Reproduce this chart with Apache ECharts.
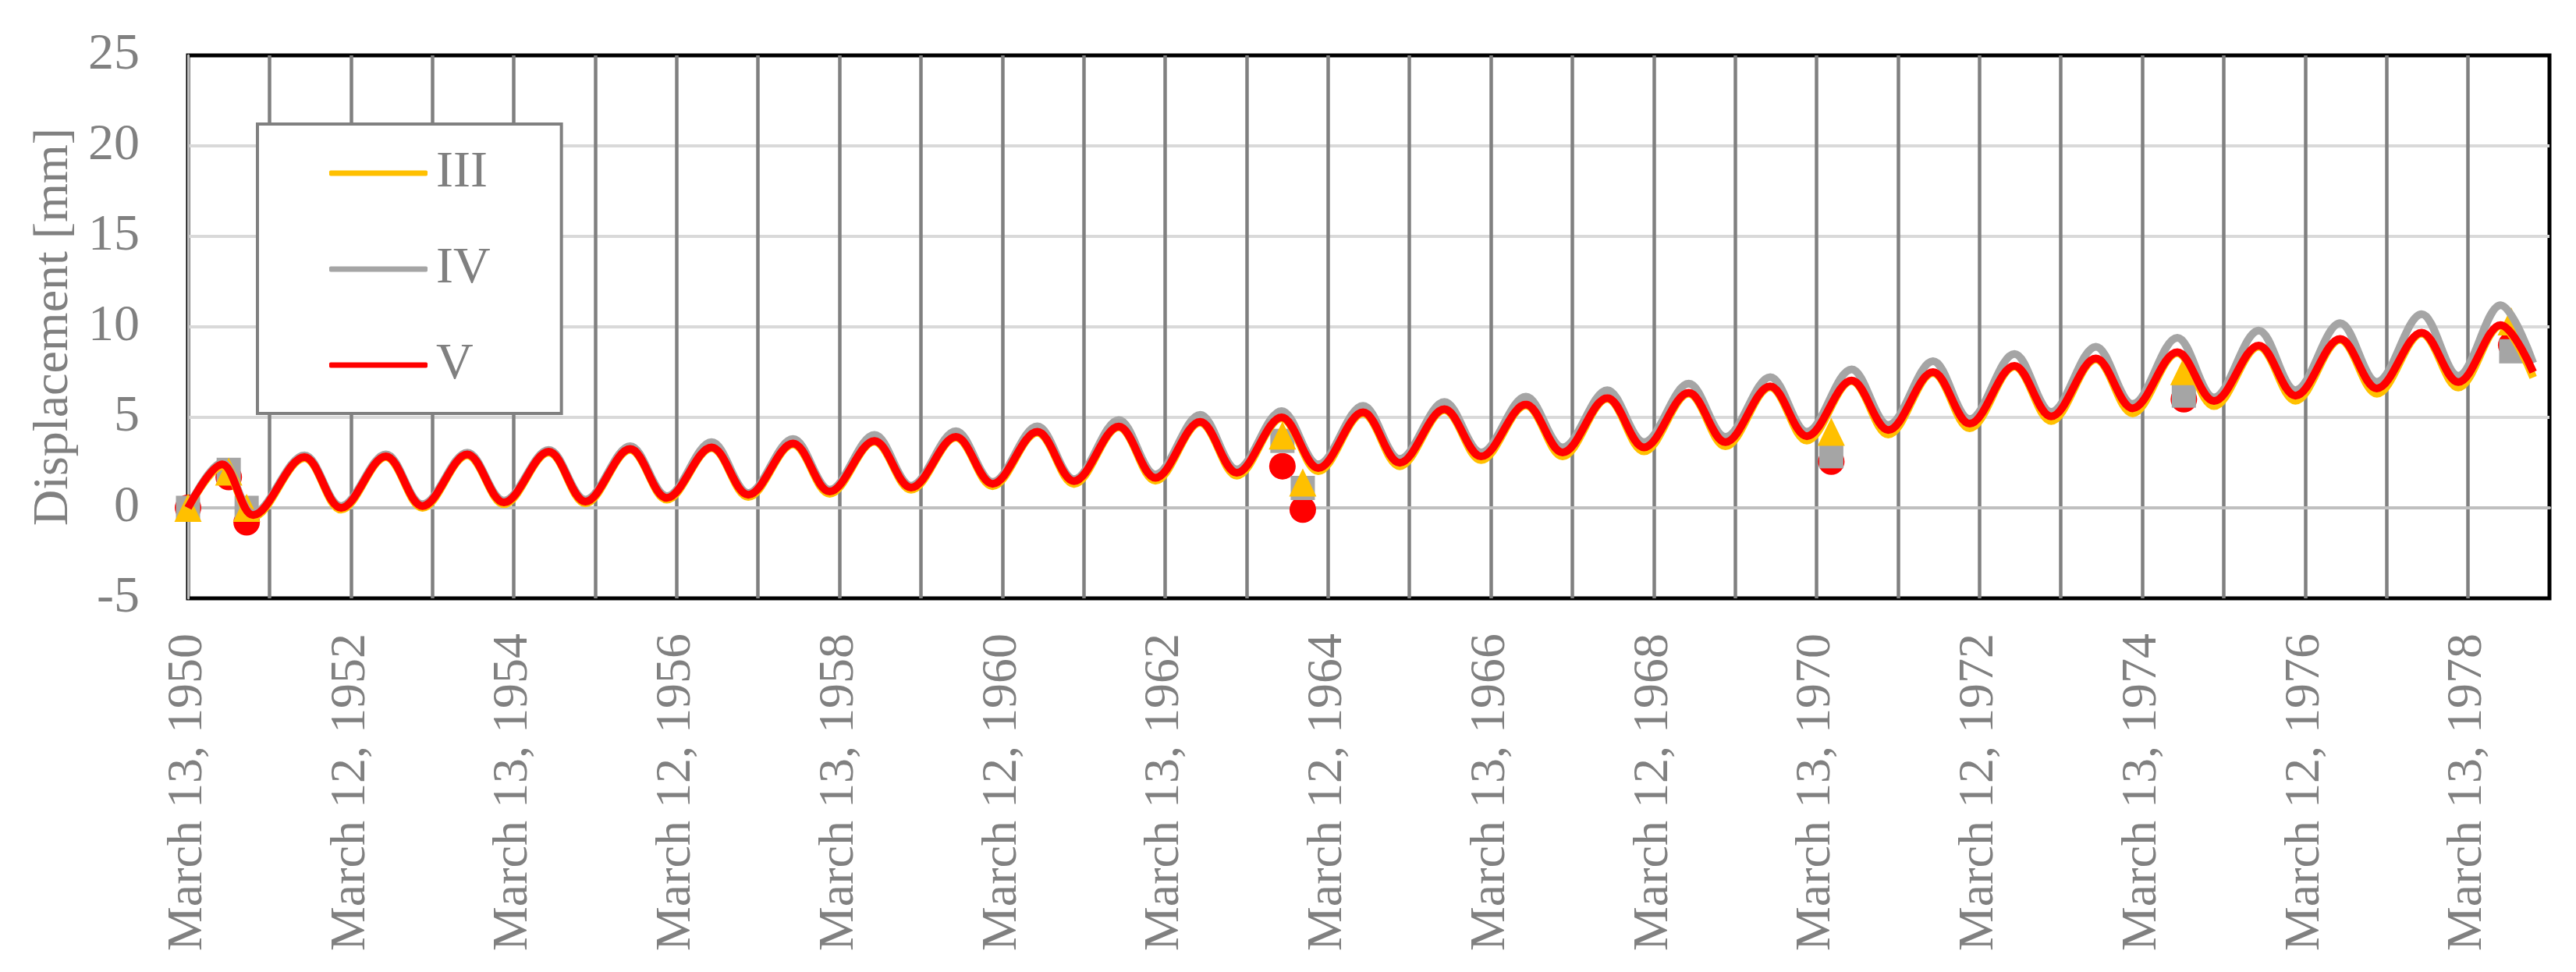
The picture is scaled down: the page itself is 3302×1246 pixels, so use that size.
<!DOCTYPE html>
<html>
<head>
<meta charset="utf-8">
<script src="https://cdn.jsdelivr.net/npm/echarts@6/dist/echarts.min.js"></script>
<style>
  body { margin: 0; background: #fff; }
  #main { width: 3302px; height: 1246px; }
</style>
</head>
<body>
<div id="main"></div>
<script>
// time in years after March 13, 1950 (peaks and troughs of each yearly wave)
var years = [0, 0.42, 0.8,
  1.43, 1.88, 2.43, 2.88, 3.43, 3.88, 4.43, 4.88, 5.43, 5.88,
  6.43, 6.88, 7.43, 7.88, 8.43, 8.88, 9.43, 9.88, 10.43, 10.88,
  11.43, 11.88, 12.43, 12.88, 13.43, 13.88, 14.43, 14.88, 15.43, 15.88,
  16.43, 16.88, 17.43, 17.88, 18.43, 18.88, 19.43, 19.88, 20.43, 20.88,
  21.43, 21.88, 22.43, 22.88, 23.43, 23.88, 24.43, 24.88, 25.43, 25.88,
  26.43, 26.88, 27.43, 27.88, 28.4, 28.8];

var lineIII = [0, 2.3, -0.5,
  2.75, -0.1, 2.8, 0.0, 2.9, 0.2, 3.05, 0.25, 3.2, 0.45,
  3.3, 0.6, 3.5, 0.78, 3.65, 1.0, 3.88, 1.2, 4.15, 1.32,
  4.45, 1.5, 4.7, 1.78, 4.95, 2.03, 5.22, 2.3, 5.4, 2.64,
  5.66, 2.85, 6.02, 3.12, 6.3, 3.4, 6.66, 3.72, 7.0, 4.05,
  7.45, 4.4, 7.8, 4.8, 8.2, 5.22, 8.55, 5.62, 8.9, 5.92,
  9.28, 6.3, 9.62, 6.65, 10.05, 7.2];

var lineIV = [0, 2.5, -0.3,
  2.9, 0.1, 2.95, 0.2, 3.05, 0.4, 3.2, 0.45, 3.41, 0.65,
  3.63, 0.82, 3.8, 1.0, 4.03, 1.22, 4.23, 1.43, 4.5, 1.58,
  4.85, 1.84, 5.14, 2.12, 5.35, 2.4, 5.64, 2.7, 5.85, 3.06,
  6.14, 3.34, 6.5, 3.63, 6.86, 3.92, 7.22, 4.2, 7.65, 4.58,
  8.1, 4.9, 8.5, 5.3, 8.9, 5.74, 9.4, 6.1, 9.8, 6.5,
  10.2, 6.96, 10.7, 7.3, 11.2, 8.0];

var lineV = [0, 2.4, -0.4,
  2.8, 0.0, 2.85, 0.1, 2.95, 0.3, 3.1, 0.35, 3.25, 0.55,
  3.34, 0.72, 3.56, 0.9, 3.7, 1.12, 3.92, 1.33, 4.2, 1.48,
  4.49, 1.66, 4.75, 1.94, 5.0, 2.2, 5.28, 2.49, 5.45, 2.84,
  5.71, 3.06, 6.07, 3.34, 6.36, 3.63, 6.71, 3.96, 7.04, 4.3,
  7.5, 4.65, 7.85, 5.05, 8.25, 5.5, 8.6, 5.9, 8.97, 6.2,
  9.33, 6.6, 9.68, 6.95, 10.1, 7.5];

// measured points
var obsYears = [0, 0.5, 0.72, 13.44, 13.69, 20.18, 24.51, 28.53];
var obsIII = [0, 2.0, 0.0, 4.0, 1.4, 4.2, 7.55, 10.3];
var obsIV = [0, 2.1, 0.0, 3.7, 1.1, 2.85, 6.2, 8.65];
var obsV = [0, 1.7, -0.8, 2.3, -0.1, 2.55, 6.0, 9.0];

var xLabels = ['March 13, 1950', 'March 12, 1952', 'March 13, 1954', 'March 12, 1956',
  'March 13, 1958', 'March 12, 1960', 'March 13, 1962', 'March 12, 1964',
  'March 13, 1966', 'March 12, 1968', 'March 13, 1970', 'March 12, 1972',
  'March 13, 1974', 'March 12, 1976', 'March 13, 1978'];

function pairs(xs, ys) {
  var out = [];
  for (var i = 0; i < xs.length; i++) out.push([xs[i], ys[i]]);
  return out;
}

var font = 'Liberation Serif';
var grayText = '#808080';

var myChart = echarts.init(document.getElementById('main'));

option = {
  animation: false,
  backgroundColor: '#fff',
  grid: {
    left: 241, right: 34, top: 71, bottom: 479,
    show: true, borderColor: '#000', borderWidth: 5, backgroundColor: 'transparent'
  },
  legend: {
    data: ['III', 'IV', 'V'],
    orient: 'vertical',
    left: 330, top: 159,
    padding: [30, 91, 29, 92],
    backgroundColor: '#fff',
    borderColor: '#808080',
    borderWidth: 4,
    icon: 'roundRect',
    itemWidth: 126,
    itemHeight: 7,
    itemGap: 57,
    textStyle: { fontFamily: font, fontSize: 66, color: grayText, lineHeight: 64, padding: [0, 0, 0, 6] }
  },
  xAxis: [
    {
      type: 'value',
      min: 0, max: 29, interval: 1,
      axisLine: { show: false, onZero: false },
      axisTick: { show: false },
      axisLabel: {
        rotate: 90, margin: 45,
        fontFamily: font, fontSize: 64, color: grayText,
        formatter: function (v) {
          if (v % 2 === 0 && xLabels[v / 2]) return xLabels[v / 2];
          return '';
        }
      },
      splitLine: { show: true, showMinLine: false, showMaxLine: false, lineStyle: { color: '#808080', width: 4.5 } }
    },
    {
      // the horizontal axis line crossing at zero
      type: 'value',
      min: 0, max: 29,
      axisLine: { show: true, onZero: true, lineStyle: { color: '#bfbfbf', width: 4 } },
      axisTick: { show: false },
      axisLabel: { show: false },
      splitLine: { show: false }
    }
  ],
  yAxis: {
    type: 'value',
    min: -5, max: 25, interval: 5,
    name: 'Displacement [mm]',
    nameLocation: 'middle',
    nameGap: 140,
    nameTextStyle: { fontFamily: font, fontSize: 64, color: grayText },
    axisLine: { show: true, lineStyle: { color: '#bfbfbf', width: 3 } },
    axisTick: { show: false },
    axisLabel: { margin: 62, fontFamily: font, fontSize: 66, color: grayText },
    splitLine: { show: true, showMinLine: false, showMaxLine: false, lineStyle: { color: '#d9d9d9', width: 4 } }
  },
  series: [
    {
      name: 'III', type: 'line', data: pairs(years, lineIII),
      smooth: 0.36, showSymbol: false,
      itemStyle: { color: '#ffc000' }, lineStyle: { color: '#ffc000', width: 10 }
    },
    {
      name: 'IV', type: 'line', data: pairs(years, lineIV),
      smooth: 0.36, showSymbol: false,
      itemStyle: { color: '#a5a5a5' }, lineStyle: { color: '#a5a5a5', width: 10 }
    },
    {
      name: 'V', type: 'line', data: pairs(years, lineV),
      smooth: 0.36, showSymbol: false,
      itemStyle: { color: '#ff0000' }, lineStyle: { color: '#ff0000', width: 10 }
    },
    {
      name: 'V obs', type: 'scatter', data: pairs(obsYears, obsV),
      symbol: 'circle', symbolSize: 34,
      itemStyle: { color: '#ff0000', opacity: 1 }
    },
    {
      name: 'IV obs', type: 'scatter', data: pairs(obsYears, obsIV),
      symbol: 'rect', symbolSize: 31,
      itemStyle: { color: '#a5a5a5', opacity: 1 }
    },
    {
      name: 'III obs', type: 'scatter', data: pairs(obsYears, obsIII),
      symbol: 'triangle', symbolSize: [35, 36],
      itemStyle: { color: '#ffc000', opacity: 1 }
    }
  ]
};

myChart.setOption(option);
</script>
</body>
</html>
